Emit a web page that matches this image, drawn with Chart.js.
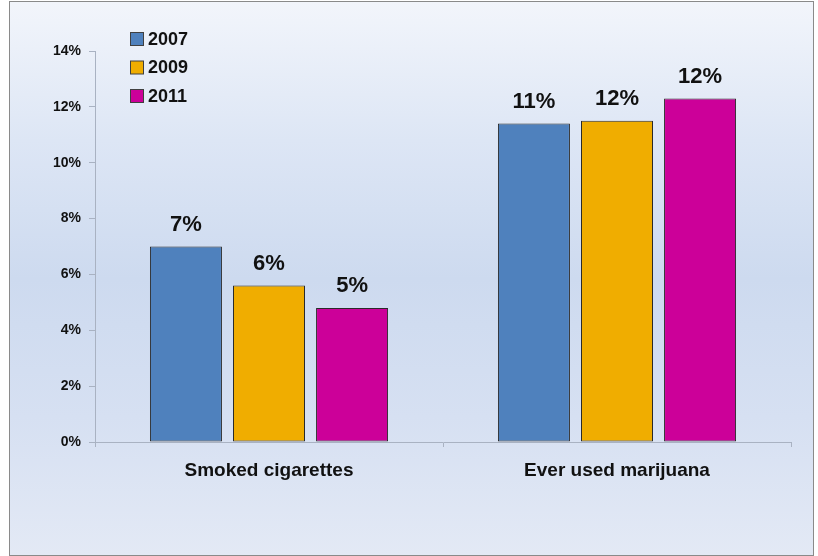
<!DOCTYPE html>
<html>
<head>
<meta charset="utf-8">
<script src="https://cdn.jsdelivr.net/npm/chart.js@4"></script>
<style>
html,body{margin:0;padding:0;width:818px;height:556px;overflow:hidden;background:#ffffff;}
#frame{position:absolute;left:9px;top:1px;width:803px;height:553px;border:1px solid #8a8a8a;
background:linear-gradient(to bottom,#f2f5fb 0%,#dde6f5 25%,#cddaef 50%,#d6e0f2 75%,#e3e9f5 100%);}
#wrap{position:absolute;left:0;top:0;width:818px;height:556px;}
</style>
</head>
<body>
<div id="frame"></div>
<div id="wrap"><canvas id="c" width="818" height="556"></canvas></div>
<script>
const categories = ["Smoked cigarettes", "Ever used marijuana"];
const seriesNames = ["2007", "2009", "2011"];
const values2007 = [7.0, 11.4];
const values2009 = [5.6, 11.5];
const values2011 = [4.8, 12.3];
const yTicks = [0, 2, 4, 6, 8, 10, 12, 14];
const colors = ["#4f81bd", "#f0ad00", "#cc0099"];

const FONT = "'Liberation Sans', Arial, sans-serif";

const labelPlugin = {
  id: 'valueLabels',
  afterDatasetsDraw(chart) {
    const ctx = chart.ctx;
    ctx.save();
    ctx.font = "bold 22px " + FONT;
    ctx.fillStyle = "#111111";
    ctx.textAlign = "center";
    ctx.textBaseline = "bottom";
    chart.data.datasets.forEach((ds, i) => {
      const meta = chart.getDatasetMeta(i);
      meta.data.forEach((bar, j) => {
        ctx.fillText(Math.round(ds.data[j]) + "%", bar.x, bar.y - 11);
      });
    });
    ctx.restore();
  }
};

const legendPlugin = {
  id: 'customLegend',
  afterDraw(chart) {
    const ctx = chart.ctx;
    ctx.save();
    ctx.font = "bold 18px " + FONT;
    ctx.textBaseline = "middle";
    ctx.textAlign = "left";
    chart.data.datasets.forEach((ds, i) => {
      const cy = 39 + i * 28.5;
      ctx.fillStyle = ds.backgroundColor;
      ctx.fillRect(130.5, cy - 6.5, 13, 13);
      ctx.strokeStyle = "#404040";
      ctx.lineWidth = 1;
      ctx.strokeRect(130.5, cy - 6.5, 13, 13);
      ctx.fillStyle = "#111111";
      ctx.fillText(ds.label, 148, cy + 1);
    });
    ctx.restore();
  }
};

const mk = (name, data, color) => ({
  label: name,
  data: data,
  backgroundColor: color,
  borderColor: "#2a2a2a",
  borderWidth: 1,
  borderSkipped: false,
  categoryPercentage: 0.716,
  barPercentage: 0.867
});

new Chart(document.getElementById('c'), {
  type: 'bar',
  data: {
    labels: categories,
    datasets: [
      mk(seriesNames[0], values2007, colors[0]),
      mk(seriesNames[1], values2009, colors[1]),
      mk(seriesNames[2], values2011, colors[2])
    ]
  },
  options: {
    responsive: false,
    animation: false,
    devicePixelRatio: 1,
    layout: { padding: { left: 0, right: 27, top: 51, bottom: 0 } },
    plugins: { legend: { display: false }, tooltip: { enabled: false } },
    scales: {
      x: {
        grid: { display: true, drawOnChartArea: false, drawTicks: true, tickLength: 5, color: "#a9b2c2", offset: true },
        border: { display: true, color: "#a9b2c2", width: 1 },
        ticks: { color: "#111111", font: { family: FONT, size: 19, weight: 'bold' }, padding: 12 },
        afterFit(s) { s.height = 114; }
      },
      y: {
        min: 0, max: 14,
        afterBuildTicks(s) { s.ticks = yTicks.map(v => ({ value: v })); },
        grid: { display: true, drawOnChartArea: false, drawTicks: true, tickLength: 6, color: "#a9b2c2" },
        border: { display: true, color: "#a9b2c2", width: 1 },
        ticks: { color: "#111111", font: { family: FONT, size: 14, weight: 'bold' }, padding: 8,
          callback: v => v + "%" },
        afterFit(s) { s.width = 95; }
      }
    }
  },
  plugins: [labelPlugin, legendPlugin]
});
</script>
</body>
</html>
